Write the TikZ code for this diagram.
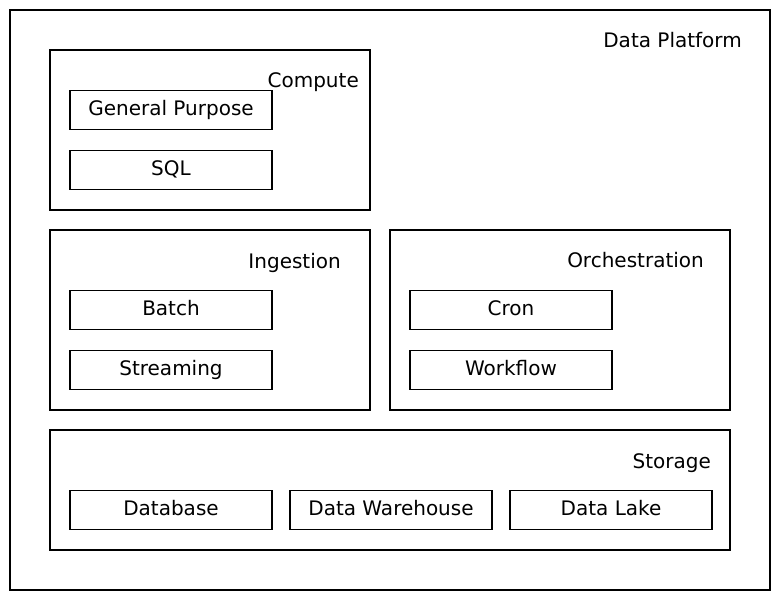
\documentclass[tikz,border=0pt]{standalone}
\usepackage{fontspec}
\setmainfont{DejaVu Sans}
\usepackage{tikz}
\usetikzlibrary{positioning}

\begin{document}
\begin{tikzpicture}[x=1pt,y=-1pt,
  group/.style={rectangle,draw,line width=1.3pt,inner sep=0pt},
  item/.style={rectangle,draw,line width=1.3pt,minimum width=202pt,minimum height=39pt,inner sep=0pt,text height=15pt,text depth=4pt,font=\fontsize{20}{24}\selectfont},
  title/.style={anchor=east,inner sep=0pt,text height=15pt,text depth=4pt,font=\fontsize{20}{24}\selectfont}
]
\useasboundingbox (0,0) rectangle (780,600);
% outer frame
\node[group,minimum width=760pt,minimum height=580pt] (platform) at (390,300) {};
\node[title] (platformT) at (742,42) {Data Platform};
% compute
\node[group,minimum width=320pt,minimum height=160pt] (compute) at (210,130) {};
\node[title] (computeT) at (359,82) {Compute};
\node[item] (general) at (171,110) {General Purpose};
\node[item] (sql) at (171,170) {SQL};
% ingestion
\node[group,minimum width=320pt,minimum height=180pt] (ingestion) at (210,320) {};
\node[title] (ingestionT) at (341,263) {Ingestion};
\node[item] (batch) at (171,310) {Batch};
\node[item] (streaming) at (171,370) {Streaming};
% orchestration
\node[group,minimum width=340pt,minimum height=180pt] (orchestration) at (560,320) {};
\node[title] (orchestrationT) at (704,262) {Orchestration};
\node[item] (cron) at (511,310) {Cron};
\node[item] (workflow) at (511,370) {Workflow};
% storage
\node[group,minimum width=680pt,minimum height=120pt] (storage) at (390,490) {};
\node[title] (storageT) at (711,463) {Storage};
\node[item] (database) at (171,510) {Database};
\node[item] (warehouse) at (391,510) {Data Warehouse};
\node[item] (lake) at (611,510) {Data Lake};
\end{tikzpicture}
\end{document}
